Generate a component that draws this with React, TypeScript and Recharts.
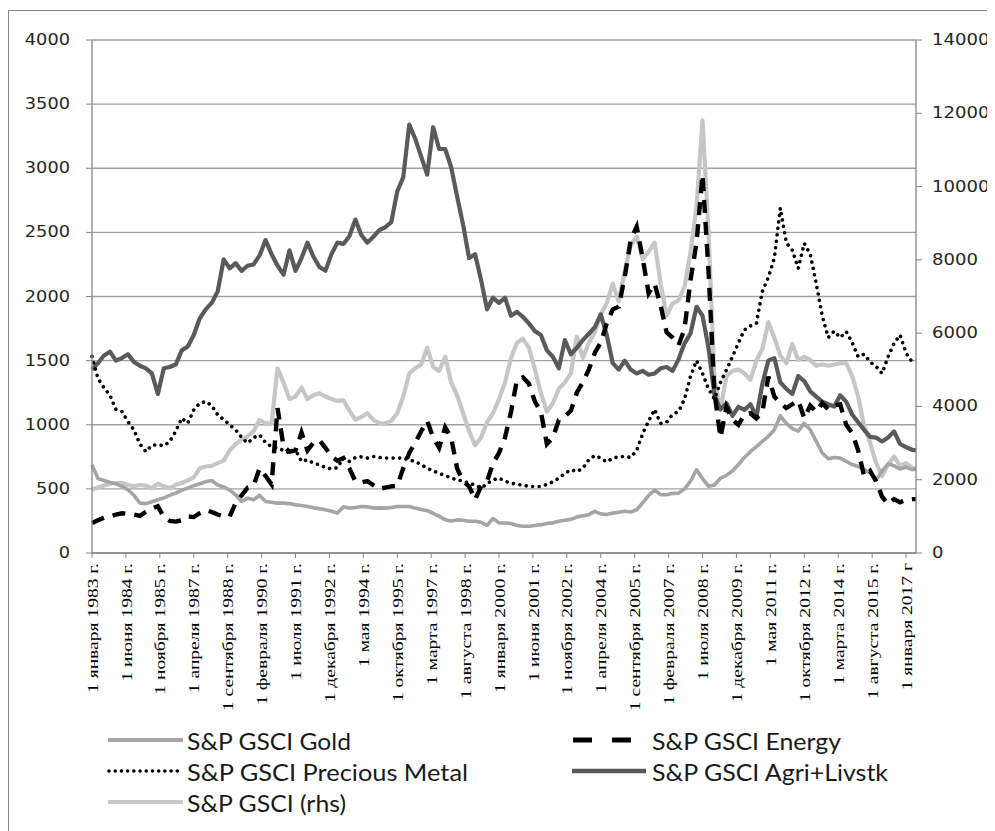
import React from 'react';
import { LineChart, Line, XAxis, YAxis, CartesianGrid } from 'recharts';

// month index counted from January 1983 (quarterly samples)
const monthIndex = [
  0, 3, 6, 9, 12, 15, 18, 21, 24, 27,
  30, 33, 36, 39, 42, 45, 48, 51, 54, 57,
  60, 63, 66, 69, 72, 75, 78, 81, 84, 87,
  90, 93, 96, 99, 102, 105, 108, 111, 114, 117,
  120, 123, 126, 129, 132, 135, 138, 141, 144, 147,
  150, 153, 156, 159, 162, 165, 168, 171, 174, 177,
  180, 183, 186, 189, 192, 195, 198, 201, 204, 207,
  210, 213, 216, 219, 222, 225, 228, 231, 234, 237,
  240, 243, 246, 249, 252, 255, 258, 261, 264, 267,
  270, 273, 276, 279, 282, 285, 288, 291, 294, 297,
  300, 303, 306, 309, 312, 315, 318, 321, 324, 327,
  330, 333, 336, 339, 342, 345, 348, 351, 354, 357,
  360, 363, 366, 369, 372, 375, 378, 381, 384, 387,
  390, 393, 396, 399, 402, 405, 408, 411, 413,
];

const tickMonths = [0, 17, 34, 51, 68, 85, 102, 119, 136, 153, 170, 187, 204, 221, 238, 255, 272, 289, 306, 323, 340, 357, 374, 391, 408];
const tickLabels = [
  '1 января 1983 г.', '1 июня 1984 г.', '1 ноября  1985 г.', '1 апреля 1987 г.', '1 сентября 1988 г.',
  '1 февраля 1990 г.', '1 июля 1991 г.', '1 декабря 1992 г.', '1 мая 1994 г.', '1 октября 1995 г.',
  '1 марта 1997 г.', '1 августа 1998 г.', '1 января 2000 г.', '1 июня 2001 г.', '1 ноября 2002 г.',
  '1 апреля 2004 г.', '1 сентября 2005 г.', '1 февраля 2007 г.', '1 июля 2008 г.', '1 декабря 2009 г.',
  '1 мая 2011 г.', '1 октября 2012 г.', '1 марта 2014 г.', '1 августа 2015 г.', '1 января 2017 г',
];

const leftTicks = [0, 500, 1000, 1500, 2000, 2500, 3000, 3500, 4000];
const rightTicks = [0, 2000, 4000, 6000, 8000, 10000, 12000, 14000];

const goldValues = [
  688, 580, 565, 550, 540, 519, 493, 450, 390, 385,
  400, 415, 430, 450, 467, 490, 506, 525, 540, 555,
  565, 530, 515, 490, 454, 402, 428, 415, 450, 402,
  395, 389, 389, 385, 376, 370, 363, 352, 345, 337,
  325, 311, 360, 350, 355, 363, 360, 350, 352, 350,
  355, 363, 363, 363, 350, 340, 330, 310, 285, 260,
  250, 258, 255, 247, 247, 240, 215, 270, 235, 234,
  230, 215, 208, 208, 215, 221, 230, 235, 247, 255,
  262, 280, 290, 299, 325, 305, 300, 311, 318, 325,
  320, 337, 390, 450, 490, 454, 454, 465, 467, 500,
  560, 649, 580, 520, 530, 584, 605, 640, 690, 745,
  790, 830, 870, 910, 960, 1070, 1010, 970, 950, 1010,
  961, 870, 780, 735, 745, 740, 715, 690, 675, 650,
  625, 570, 640, 695, 680, 655, 670, 650, 655,
];

const energyValues = [
  234, 255, 275, 285, 300, 310, 305, 300, 290, 320,
  345, 365, 280, 250, 245, 255, 285, 280, 310, 335,
  320, 300, 285, 285, 390, 450, 510, 525, 660, 600,
  535, 1130, 830, 790, 800, 940, 800, 860, 880, 820,
  750, 720, 740, 660, 560, 550, 560, 530, 500, 510,
  520, 525, 660, 780, 860, 950, 1030, 900, 820, 980,
  900, 660, 560, 520, 415, 520, 560, 700, 780, 900,
  1100, 1350, 1370, 1320, 1180, 1100, 850, 900, 1038, 1064,
  1110, 1250, 1330, 1430, 1560, 1640, 1790, 1900, 1921, 2150,
  2440, 2544, 2300, 2025, 2100, 1930, 1720, 1680, 1620, 1750,
  2130, 2420, 2950, 2200, 1250, 900, 1140, 1040, 1000, 1080,
  1090, 1050, 1100, 1376, 1220, 1170, 1130, 1160, 1190, 1050,
  1150, 1100, 1170, 1120, 1150, 1160, 1000, 935, 800, 600,
  640, 560, 440, 380, 420, 395, 415, 420, 420,
];

const preciousValues = [
  1532, 1360, 1290, 1230, 1120, 1103, 1025, 960, 850, 790,
  840, 844, 835, 870, 950, 1051, 1012, 1116, 1168, 1181,
  1150, 1077, 1040, 1000, 960, 900, 857, 900, 920, 860,
  830, 818, 800, 780, 805, 714, 727, 700, 688, 665,
  655, 665, 740, 714, 745, 750, 740, 753, 745, 740,
  740, 740, 740, 725, 714, 690, 660, 640, 620, 605,
  585, 570, 560, 545, 530, 506, 540, 570, 584, 560,
  545, 535, 530, 519, 519, 519, 535, 555, 584, 620,
  649, 635, 660, 727, 760, 740, 710, 740, 750, 753,
  745, 800, 930, 1030, 1120, 1010, 1020, 1080, 1103, 1200,
  1380, 1500, 1400, 1280, 1200, 1330, 1428, 1530, 1640, 1739,
  1770, 1791, 2040, 2150, 2300, 2690, 2420, 2360, 2220, 2414,
  2330, 2100, 1850, 1680, 1730, 1680, 1726, 1640, 1530, 1550,
  1490, 1454, 1400, 1530, 1635, 1700, 1560, 1490, 1480,
];

const agriValues = [
  1430, 1480, 1540, 1570, 1500, 1520, 1550, 1490, 1460, 1440,
  1400, 1240, 1440, 1450, 1470, 1580, 1610, 1700, 1830, 1900,
  1950, 2040, 2290, 2220, 2260, 2200, 2240, 2250, 2320, 2440,
  2330, 2240, 2170, 2360, 2200, 2300, 2420, 2310, 2230, 2200,
  2330, 2420, 2410, 2470, 2600, 2480, 2420, 2466, 2518, 2540,
  2580, 2820, 2930, 3340, 3230, 3090, 2950, 3320, 3150, 3150,
  3010, 2780, 2560, 2300, 2330, 2130, 1900, 1990, 1950, 1990,
  1850, 1880, 1840, 1790, 1730, 1700, 1580, 1530, 1440, 1660,
  1550, 1600, 1660, 1710, 1760, 1860, 1700, 1480, 1430, 1500,
  1430, 1400, 1420, 1390, 1400, 1440, 1450, 1420, 1510, 1635,
  1713, 1920, 1850, 1600, 1230, 1120, 1168, 1070, 1140, 1116,
  1160, 1060, 1320, 1500, 1520, 1330, 1280, 1240, 1380, 1340,
  1260, 1220, 1180, 1160, 1142, 1230, 1180, 1080, 1020, 960,
  905, 900, 870, 900, 948, 850, 825, 805, 800,
];

const gsciValues = [
  1730, 1785, 1840, 1890, 1910, 1910, 1855, 1820, 1855, 1840,
  1770, 1890, 1820, 1770, 1860, 1910, 1980, 2065, 2310, 2360,
  2380, 2455, 2520, 2800, 2975, 3090, 3180, 3325, 3630, 3540,
  3540, 5040, 4655, 4200, 4270, 4515, 4200, 4305, 4360, 4270,
  4200, 4150, 4165, 3885, 3640, 3710, 3815, 3635, 3540, 3540,
  3605, 3815, 4270, 4900, 5040, 5145, 5600, 5075, 4970, 5355,
  4655, 4305, 3815, 3325, 2940, 3150, 3570, 3815, 4200, 4655,
  5320, 5740, 5845, 5600, 5005, 4360, 3860, 4095, 4480, 4655,
  4900, 5905, 5320, 5740, 6020, 6510, 6815, 7350, 6860, 7700,
  8400, 8630, 8015, 8225, 8470, 7350, 6475, 6815, 6895, 7270,
  8225, 9450, 11810, 8750, 4725, 3920, 4830, 4970, 5005, 4900,
  4725, 5250, 5565, 6300, 5880, 5390, 5180, 5705, 5270, 5355,
  5270, 5110, 5145, 5110, 5145, 5180, 5180, 4830, 4270, 3465,
  3010, 2450, 2100, 2415, 2635, 2380, 2450, 2330, 2310,
];

const seriesNames = {
  gold: 'S&P GSCI Gold',
  energy: 'S&P GSCI Energy',
  precious: 'S&P GSCI Precious Metal',
  agri: 'S&P GSCI Agri+Livstk',
  gsci: 'S&P GSCI (rhs)',
};

const data = monthIndex.map((m, i) => ({
  m,
  gold: goldValues[i],
  energy: energyValues[i],
  precious: preciousValues[i],
  agri: agriValues[i],
  gsci: gsciValues[i],
}));

const AXIS = '#868686';
const NUM_FONT = 'DejaVu Sans';

const LeftTick = (props: any) => {
  const { x, y, payload } = props;
  const s = String(payload.value);
  return (
    <text x={x} y={y} textAnchor="end" dominantBaseline="central" fontFamily={NUM_FONT} fontSize={15}
      fill="#262626" textLength={s.length * 11.3} lengthAdjust="spacingAndGlyphs">{s}</text>
  );
};

const RightTick = (props: any) => {
  const { x, y, payload } = props;
  const s = String(payload.value);
  return (
    <text x={x} y={y} textAnchor="start" dominantBaseline="central" fontFamily={NUM_FONT} fontSize={15}
      fill="#262626" textLength={s.length * 11.5} lengthAdjust="spacingAndGlyphs">{s}</text>
  );
};

const XTick = (props: any) => {
  const { x, y, payload } = props;
  const idx = tickMonths.indexOf(payload.value);
  const label = idx >= 0 ? tickLabels[idx] : '';
  return (
    <text transform={`translate(${x},${y}) rotate(-90) scale(1.26,1)`} textAnchor="end" dy="0.36em"
      fontFamily="Liberation Serif" fontSize={15.5} fill="#000">{label}</text>
  );
};

const LEG_FONT = 'Lato';

const Legend = () => (
  <svg width={987} height={823} viewBox="8 8 987 823" style={{ position: 'absolute', left: 0, top: 0, pointerEvents: 'none' }}>
    <line x1={108} y1={740} x2={183} y2={740} stroke="#a5a5a5" strokeWidth={4} />
    <text x={187} y={740} dominantBaseline="central" fontFamily={LEG_FONT} fontSize={24} fill="#1a1a1a" textLength={164} lengthAdjust="spacingAndGlyphs">{seriesNames.gold}</text>
    <line x1={109} y1={771} x2={183} y2={771} stroke="#000" strokeWidth={3.6} strokeDasharray="0.01 6.2" strokeLinecap="round" />
    <text x={187} y={771} dominantBaseline="central" fontFamily={LEG_FONT} fontSize={24} fill="#1a1a1a" textLength={281} lengthAdjust="spacingAndGlyphs">{seriesNames.precious}</text>
    <line x1={108} y1={802} x2={183} y2={802} stroke="#c8c8c8" strokeWidth={4} />
    <text x={187} y={802} dominantBaseline="central" fontFamily={LEG_FONT} fontSize={24} fill="#1a1a1a" textLength={159} lengthAdjust="spacingAndGlyphs">{seriesNames.gsci}</text>
    <line x1={573} y1={740} x2={631} y2={740} stroke="#000" strokeWidth={5} strokeDasharray="19 20" />
    <text x={652} y={740} dominantBaseline="central" fontFamily={LEG_FONT} fontSize={24} fill="#1a1a1a" textLength={189} lengthAdjust="spacingAndGlyphs">{seriesNames.energy}</text>
    <line x1={572} y1={771} x2={646} y2={771} stroke="#595959" strokeWidth={4.5} />
    <text x={652} y={771} dominantBaseline="central" fontFamily={LEG_FONT} fontSize={24} fill="#1a1a1a" textLength={236} lengthAdjust="spacingAndGlyphs">{seriesNames.agri}</text>
  </svg>
);

export default function App() {
  return (
    <div style={{ position: 'relative', width: 987, height: 823 }}>
      <div style={{ position: 'absolute', left: 0, top: 2, width: 987, height: 821, borderTop: `1px solid ${AXIS}`, borderLeft: `1px solid ${AXIS}`, boxSizing: 'border-box' }} />
      <div style={{ position: 'absolute', left: 0, top: 0 }}>
        <LineChart width={987} height={720} data={data} margin={{ top: 32, right: 0, left: 0, bottom: 0 }}>
          <CartesianGrid yAxisId="left" vertical={false} stroke="#a0a0a0" strokeWidth={1.3} />
          <XAxis dataKey="m" type="number" domain={[0, 413]} ticks={tickMonths} interval={0} height={175}
            tick={<XTick />} tickSize={5} tickMargin={5} axisLine={{ stroke: AXIS, strokeWidth: 1.3 }} tickLine={{ stroke: AXIS }} />
          <YAxis yAxisId="left" domain={[0, 4000]} ticks={leftTicks} width={84} tick={<LeftTick />} tickSize={6} tickMargin={16}
            axisLine={{ stroke: AXIS, strokeWidth: 1.3 }} tickLine={{ stroke: AXIS }} interval={0} />
          <YAxis yAxisId="right" orientation="right" domain={[0, 14000]} ticks={rightTicks} width={79} tick={<RightTick />} tickSize={6} tickMargin={10}
            axisLine={{ stroke: AXIS, strokeWidth: 1.3 }} tickLine={{ stroke: AXIS }} interval={0} />
          <Line yAxisId="right" type="linear" dataKey="gsci" name={seriesNames.gsci} stroke="#c6c6c6" strokeWidth={4.2} dot={false} isAnimationActive={false} strokeLinejoin="round" />
          <Line yAxisId="left" type="linear" dataKey="gold" name={seriesNames.gold} stroke="#a5a5a5" strokeWidth={3.6} dot={false} isAnimationActive={false} strokeLinejoin="round" />
          <Line yAxisId="left" type="linear" dataKey="agri" name={seriesNames.agri} stroke="#5a5a5a" strokeWidth={4.2} dot={false} isAnimationActive={false} strokeLinejoin="round" />
          <Line yAxisId="left" type="linear" dataKey="precious" name={seriesNames.precious} stroke="#000" strokeWidth={3.6} strokeDasharray="0.01 6.5" strokeLinecap="round" dot={false} isAnimationActive={false} />
          <Line yAxisId="left" type="linear" dataKey="energy" name={seriesNames.energy} stroke="#000" strokeWidth={4.4} strokeDasharray="13 9" dot={false} isAnimationActive={false} />
        </LineChart>
      </div>
      <Legend />
    </div>
  );
}
